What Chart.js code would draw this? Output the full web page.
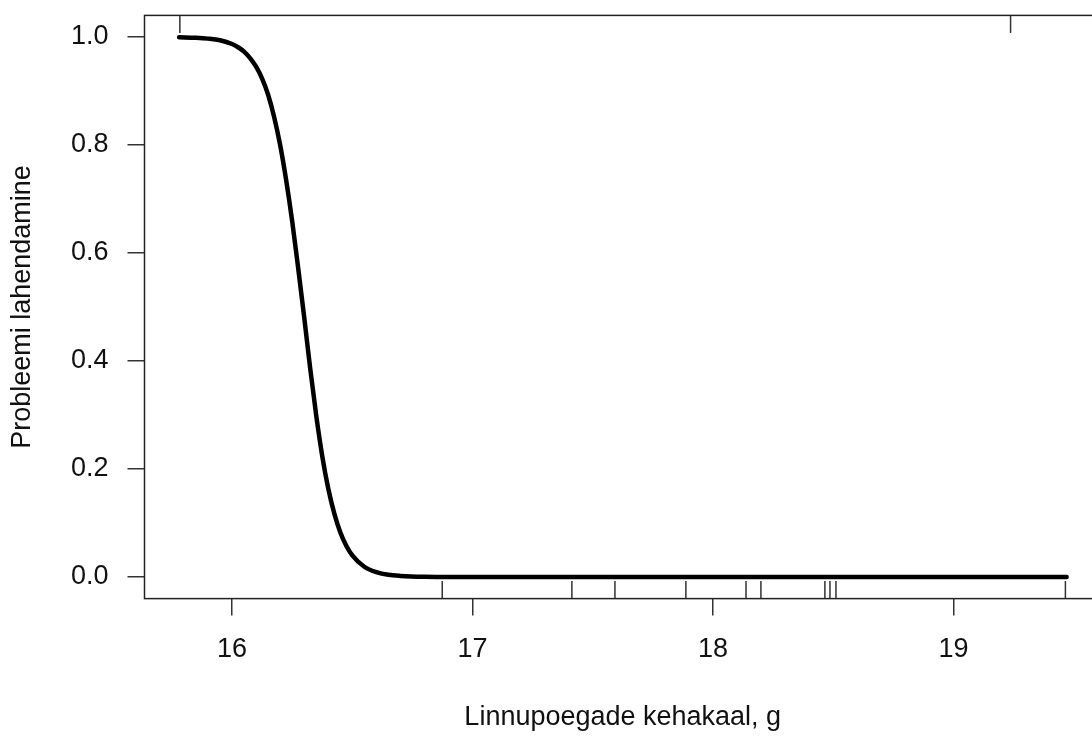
<!DOCTYPE html>
<html>
<head>
<meta charset="utf-8">
<script src="https://cdn.jsdelivr.net/npm/chart.js@4"></script>
<style>
    html, body { margin: 0; padding: 0; overflow: hidden; background: #fff; }
</style>
</head>
<body>
<canvas id="curveCanvas" width="1110" height="736"></canvas>
<script>
// fitted curve
let curveX = [15.78, 15.85, 15.9, 15.95, 16.0, 16.025, 16.05, 16.075, 16.1, 16.125, 16.15, 16.175, 16.2, 16.225, 16.25, 16.275,
    16.3, 16.325, 16.35, 16.375, 16.4, 16.425, 16.45, 16.475, 16.5, 16.55, 16.6, 16.65, 16.7, 16.8, 16.9, 17.0, 17.5, 18.0, 18.5, 19.0, 19.47];
let curveY = [0.9995, 0.9985, 0.997, 0.994, 0.987, 0.981, 0.973, 0.961, 0.945, 0.923, 0.893, 0.852, 0.800, 0.735, 0.659, 0.572,
    0.481, 0.386, 0.299, 0.224, 0.164, 0.118, 0.083, 0.058, 0.040, 0.019, 0.009, 0.004, 0.002, 0.0004, 0.0001, 0, 0, 0, 0, 0, 0];

// observations (rug): solved = top, not solved = bottom
let rugTop = [15.783, 19.237];
let rugBottom = [16.874, 17.413, 17.592, 17.887, 18.137, 18.199, 18.465, 18.486, 18.511, 19.465];

let xTicks = [16, 17, 18, 19];
let yTicks = [0, 0.2, 0.4, 0.6, 0.8, 1.0];
let yTickLabels = ['0.0', '0.2', '0.4', '0.6', '0.8', '1.0'];

let fontFamily = '"Liberation Sans", Arial, sans-serif';

let boxAndRug = {
    id: 'boxAndRug',
    afterDatasetsDraw: function (chart) {
        let ctx = chart.ctx;
        let area = chart.chartArea;
        let xs = chart.scales.x;
        let len = 17.5;
        ctx.save();
        ctx.strokeStyle = '#333';
        ctx.lineWidth = 1.5;
        ctx.beginPath();
        rugBottom.forEach(function (v) {
            let px = xs.getPixelForValue(v);
            ctx.moveTo(px, area.bottom);
            ctx.lineTo(px, area.bottom - len);
        });
        rugTop.forEach(function (v) {
            let px = xs.getPixelForValue(v);
            ctx.moveTo(px, area.top);
            ctx.lineTo(px, area.top + len);
        });
        ctx.stroke();
        ctx.strokeStyle = '#222';
        ctx.strokeRect(area.left, area.top, area.right - area.left, area.bottom - area.top);
        ctx.restore();
    }
};

let ctx = document.getElementById('curveCanvas').getContext('2d');
new Chart(ctx, {
    type: 'line',
    data: {
        datasets: [{
            data: curveX.map(function (x, i) { return { x: x, y: curveY[i] }; }),
            borderColor: '#000',
            borderWidth: 4.5,
            borderCapStyle: 'round',
            borderJoinStyle: 'round',
            pointRadius: 0,
            cubicInterpolationMode: 'monotone',
            fill: false
        }]
    },
    options: {
        responsive: false,
        animation: false,
        devicePixelRatio: 1,
        layout: { padding: { top: 15.4, right: 9, left: 0, bottom: 0 } },
        plugins: {
            legend: { display: false },
            tooltip: { enabled: false }
        },
        scales: {
            x: {
                type: 'linear',
                min: 15.636,
                max: 19.613,
                afterBuildTicks: function (scale) {
                    scale.ticks = xTicks.map(function (v) { return { value: v }; });
                },
                afterFit: function (scale) {
                    scale.height = 137.4;
                    scale.paddingLeft = 0;
                    scale.paddingRight = 0;
                },
                grid: { drawOnChartArea: false, drawTicks: true, tickLength: 17, color: '#333', lineWidth: 1.5 },
                border: { display: false },
                ticks: {
                    padding: 18,
                    maxRotation: 0,
                    color: '#111',
                    font: { family: fontFamily, size: 27 },
                    callback: function (v) { return String(v); }
                },
                title: {
                    display: true,
                    text: 'Linnupoegade kehakaal, g',
                    color: '#111',
                    font: { family: fontFamily, size: 27 },
                    padding: { top: 0, bottom: 2 }
                }
            },
            y: {
                type: 'linear',
                min: -0.04,
                max: 1.04,
                afterBuildTicks: function (scale) {
                    scale.ticks = yTicks.map(function (v) { return { value: v }; });
                },
                afterFit: function (scale) {
                    scale.width = 144.5;
                    scale.paddingTop = 0;
                    scale.paddingBottom = 0;
                },
                grid: { drawOnChartArea: false, drawTicks: true, tickLength: 17, color: '#333', lineWidth: 1.5 },
                border: { display: false },
                ticks: {
                    padding: 19,
                    color: '#111',
                    font: { family: fontFamily, size: 27 },
                    callback: function (v) {
                        let i = yTicks.indexOf(v);
                        return i >= 0 ? yTickLabels[i] : '';
                    }
                },
                title: {
                    display: true,
                    text: 'Probleemi lahendamine',
                    color: '#111',
                    font: { family: fontFamily, size: 27 },
                    padding: { top: 6, bottom: 0 }
                }
            }
        }
    },
    plugins: [boxAndRug]
});
</script>
</body>
</html>
